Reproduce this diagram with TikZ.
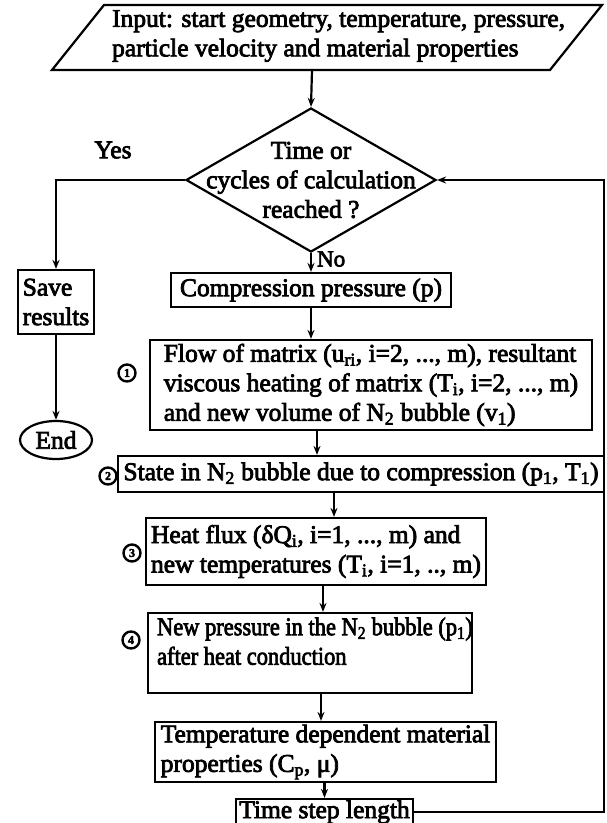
\documentclass[tikz,border=0pt]{standalone}
\usepackage{fontspec}
\usepackage{graphicx}
\setmainfont{Liberation Serif}[FakeBold=3]
\usetikzlibrary{shapes.geometric,arrows.meta,calc}
\newcommand\dtxt{\fontsize{25.5}{29.5}\selectfont}
\begin{document}
\begin{tikzpicture}[x=1pt,y=-1pt,line width=2.2pt,
  box/.style={draw,rectangle,inner sep=0pt,align=left,font=\dtxt},
  lbl/.style={inner sep=0pt,font=\dtxt},
  conn/.style={-{Stealth[length=9pt,width=7pt]}},
  numc/.style={circle,draw,line width=2.4pt,inner sep=0pt,minimum size=17pt,font=\fontsize{12}{12}\selectfont\bfseries}]
\useasboundingbox (0,0) rectangle (606,823);
\fill[white] (0,0) rectangle (606,823);
\clip (0,0) rectangle (606,823);
% input parallelogram
\draw (104,5) -- (602,5) -- (550,70) -- (52,70) -- cycle;
\node[lbl,anchor=west,align=left] (inp) at (111,36) {Input: start geometry, temperature, pressure,\\particle velocity and material properties};
\coordinate (inpb) at (312,70);
% decision
\node[draw,diamond,minimum width=250pt,minimum height=144pt,inner sep=0pt] (dia) at (311,180) {};
\node[lbl,align=center] (diat) at (311,180) {Time or\\cycles of calculation\\reached ?};
\node[lbl] (yes) at (113,150) {Yes};
\node[lbl,anchor=west,font=\fontsize{23}{25}\selectfont] (no) at (316,259) {No};
% left branch
\node[box,minimum width=76pt,minimum height=64pt] (save) at (56,302) {Save\\results};
\node[draw,ellipse,minimum width=72pt,minimum height=38pt,inner sep=0pt,font=\dtxt] (end) at (56,440) {End};
% main column
\node[box,minimum width=280pt,minimum height=34pt] (comp) at (311,290) {Compression pressure (p)};
\node[box,minimum width=442pt,minimum height=90pt] (flow) at (371,385) {Flow of matrix (u\textsubscript{ri}, i=2, ..., m), resultant\\viscous heating of matrix (T\textsubscript{i}, i=2, ..., m)\\and new volume of N\textsubscript{2} bubble (v\textsubscript{1})};
\node[box,minimum width=486pt,minimum height=36pt] (state) at (361,474) {State in N\textsubscript{2} bubble due to compression (p\textsubscript{1}, T\textsubscript{1})};
\node[box,minimum width=340pt,minimum height=67pt] (heat) at (316,551.5) {Heat flux (δQ\textsubscript{i}, i=1, ..., m) and\\new temperatures (T\textsubscript{i}, i=1, .., m)};
\node[draw,rectangle,minimum width=324pt,minimum height=80pt,inner sep=0pt] (newp) at (310,653) {};
\node[lbl,anchor=west] (newpt) at (156,644) {\scalebox{0.88}[1]{\begin{tabular}{@{}l@{}}New pressure in the N\textsubscript{2} bubble (p\textsubscript{1})\\after heat conduction\end{tabular}}};
\node[box,minimum width=341pt,minimum height=60pt] (temp) at (325.5,752) {Temperature dependent material\\properties (C\textsubscript{p}, μ)};
\node[box,minimum width=177pt,minimum height=26pt] (time) at (324.5,812) {Time step length};
\coordinate (rc) at (604,0);
% step numbers
\node[numc] (n1) at (127,373) {1};
\node[numc] (n2) at (108,476) {2};
\node[numc] (n3) at (132,553) {3};
\node[numc] (n4) at (131,640) {4};
% connectors
\draw[conn] (inpb) -- (dia.north);
\draw[conn] (dia.west) -| (save.north);
\draw[conn] (save.south) -- (end.north);
\draw[conn] (dia.south) -- (comp.north);
\draw[conn] (comp.south) -- (comp.south |- flow.north);
\draw[conn] ([xshift=-54pt]flow.south) -- ([xshift=-54pt]flow.south |- state.north);
\draw[conn] ([xshift=-27pt]state.south) -- ([xshift=-27pt]state.south |- heat.north);
\draw[conn] ([xshift=7pt]heat.south) -- ([xshift=7pt]heat.south |- newp.north);
\draw[conn] ([xshift=11pt]newp.south) -- ([xshift=11pt]newp.south |- temp.north);
\draw[conn] (temp.south -| time.north) -- (time.north);
\draw[conn] (time.east) -- (time.east -| rc) -- (dia.east -| rc) -- (dia.east);
\end{tikzpicture}
\end{document}
